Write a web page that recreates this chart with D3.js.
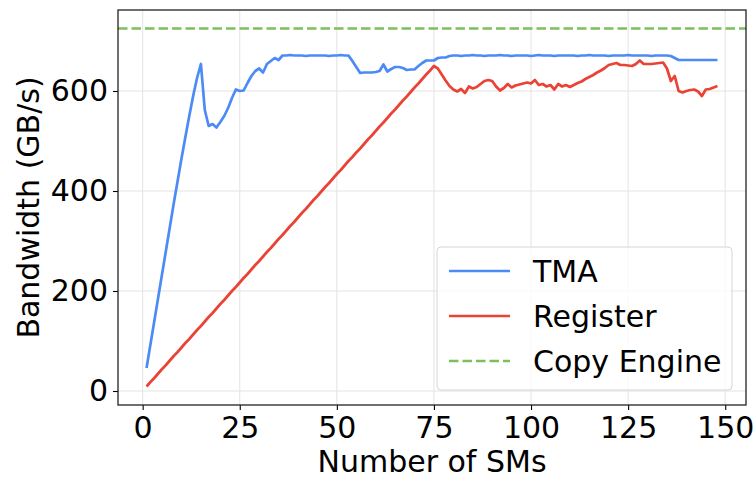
<!DOCTYPE html>
<html>
<head>
<meta charset="utf-8">
<script src="https://cdn.jsdelivr.net/npm/d3@7"></script>
<style>
  body { margin: 0; background: #fff; }
  text { font-family: "DejaVu Sans", sans-serif; fill: #000; }
</style>
</head>
<body>
<svg id="chart" width="755" height="479"></svg>
<script>
// number of SMs on the x axis
var sms = d3.range(1, 149);

// TMA bandwidth (GB/s), one value per SM count
var tmaBandwidth = [
    46, 93, 140, 187, 234, 281, 328, 375, 420, 465,
    508, 550, 590, 626, 654, 562, 530, 534, 527, 538,
    550, 566, 586, 603, 600, 601, 616, 630, 640, 645,
    637, 654, 660, 666, 662, 671, 671, 672, 671, 671,
    671, 670, 671, 671, 671, 671, 671, 670, 671, 671,
    672, 671, 671, 660, 648, 636, 637, 637, 637, 638,
    640, 653, 639, 644, 648, 648, 646, 642, 643, 643,
    650, 656, 661, 661, 661, 666, 667, 667, 670, 671,
    671, 670, 671, 671, 672, 671, 671, 670, 671, 671,
    671, 672, 671, 671, 670, 671, 671, 671, 671, 670,
    671, 672, 671, 671, 671, 670, 671, 671, 671, 671,
    671, 670, 671, 671, 672, 671, 671, 671, 671, 670,
    671, 671, 671, 671, 672, 671, 671, 671, 671, 671,
    670, 671, 671, 671, 671, 670, 666, 662, 662, 662,
    662, 662, 662, 662, 662, 662, 662, 662
];

// Register bandwidth (GB/s)
var registerBandwidth = [
    9, 18, 26, 35, 44, 52, 61, 70, 78, 87,
    96, 104, 113, 122, 130, 139, 148, 156, 165, 174,
    182, 191, 200, 208, 217, 226, 234, 243, 252, 260,
    269, 278, 286, 295, 304, 312, 321, 330, 338, 347,
    356, 364, 373, 382, 390, 399, 408, 416, 425, 434,
    442, 451, 460, 468, 477, 485, 494, 503, 511, 520,
    529, 537, 546, 555, 563, 572, 581, 589, 598, 607,
    615, 624, 633, 641, 650, 645, 633, 621, 610, 603,
    599, 604, 596, 609, 605, 608, 614, 620, 622, 620,
    609, 601, 606, 614, 607, 611, 613, 615, 617, 615,
    622, 612, 614, 609, 612, 603, 614, 609, 612, 608,
    612, 616, 619, 624, 628, 632, 637, 641, 646, 652,
    654, 656, 652, 652, 651, 650, 654, 661, 654, 654,
    654, 655, 656, 657, 645, 620, 630, 600, 597, 600,
    602, 603, 599, 590, 603, 604, 607, 610
];

// copy engine reference level (GB/s)
var copyEngineBandwidth = 725;

var xTicks = [0, 25, 50, 75, 100, 125, 150];
var yTicks = [0, 200, 400, 600];

var seriesNames = ["TMA", "Register", "Copy Engine"];
var seriesColors = ["#4C8BF5", "#EA4335", "#7DBE5E"];

var mainSvg = d3.select("#chart");

var plotLeft = 118, plotRight = 746, plotTop = 10, plotBottom = 405;
var fontSize = 30;

var xScale = d3.scaleLinear().domain([-6.35, 155.35]).range([plotLeft, plotRight]);
var yScale = d3.scaleLinear().domain([-28, 762]).range([plotBottom, plotTop]);

// grid
var grid = mainSvg.append("g");
grid.selectAll("line.vgrid").data(xTicks).enter().append("line")
    .attr("x1", function(d) { return xScale(d); })
    .attr("x2", function(d) { return xScale(d); })
    .attr("y1", plotTop)
    .attr("y2", plotBottom)
    .attr("stroke", "#e3e3e3")
    .attr("stroke-width", 1);
grid.selectAll("line.hgrid").data(yTicks).enter().append("line")
    .attr("x1", plotLeft)
    .attr("x2", plotRight)
    .attr("y1", function(d) { return yScale(d); })
    .attr("y2", function(d) { return yScale(d); })
    .attr("stroke", "#e3e3e3")
    .attr("stroke-width", 1);

// lines
var lineGen = d3.line()
    .x(function(d) { return xScale(d[0]); })
    .y(function(d) { return yScale(d[1]); });

mainSvg.append("path")
    .attr("d", lineGen(d3.zip(sms, registerBandwidth)))
    .attr("fill", "none")
    .attr("stroke", seriesColors[1])
    .attr("stroke-width", 2.7)
    .attr("stroke-linejoin", "round");

mainSvg.append("path")
    .attr("d", lineGen(d3.zip(sms, tmaBandwidth)))
    .attr("fill", "none")
    .attr("stroke", seriesColors[0])
    .attr("stroke-width", 2.7)
    .attr("stroke-linejoin", "round");

mainSvg.append("line")
    .attr("x1", plotLeft)
    .attr("x2", plotRight)
    .attr("y1", yScale(copyEngineBandwidth))
    .attr("y2", yScale(copyEngineBandwidth))
    .attr("stroke", seriesColors[2])
    .attr("stroke-width", 2.7)
    .attr("stroke-dasharray", "9.5,4");

// axes
var xAxis = d3.axisBottom(xScale).tickValues(xTicks).tickSize(5).tickPadding(5);
var yAxis = d3.axisLeft(yScale).tickValues(yTicks).tickSize(5).tickPadding(5);

var gx = mainSvg.append("g")
    .attr("transform", "translate(0," + plotBottom + ")")
    .call(xAxis);
var gy = mainSvg.append("g")
    .attr("transform", "translate(" + plotLeft + ",0)")
    .call(yAxis);

[gx, gy].forEach(function(g) {
    g.select(".domain").remove();
    g.selectAll(".tick line").attr("stroke", "#000").attr("stroke-width", 1.1);
    g.selectAll(".tick text")
        .attr("font-family", "DejaVu Sans")
        .attr("font-size", fontSize)
        .attr("fill", "#000");
});
gx.selectAll(".tick text").attr("dy", "0.76em");

// frame
mainSvg.append("rect")
    .attr("x", plotLeft)
    .attr("y", plotTop)
    .attr("width", plotRight - plotLeft)
    .attr("height", plotBottom - plotTop)
    .attr("fill", "none")
    .attr("stroke", "#222")
    .attr("stroke-width", 1.3);

// axis labels
mainSvg.append("text")
    .text("Number of SMs")
    .attr("text-anchor", "middle")
    .attr("x", (plotLeft + plotRight) / 2)
    .attr("y", 472)
    .attr("font-size", fontSize);

mainSvg.append("text")
    .text("Bandwidth (GB/s)")
    .attr("text-anchor", "middle")
    .attr("transform", "translate(39," + ((plotTop + plotBottom) / 2) + ") rotate(-90)")
    .attr("font-size", fontSize);

// legend
var legend = mainSvg.append("g");
legend.append("rect")
    .attr("x", 437)
    .attr("y", 247)
    .attr("width", 295)
    .attr("height", 143)
    .attr("rx", 4)
    .attr("fill", "#fff")
    .attr("fill-opacity", 0.8)
    .attr("stroke", "#d6d6d6")
    .attr("stroke-width", 1);

var legendRows = [271, 316, 361];
for (var i = 0; i < seriesNames.length; i++) {
    legend.append("line")
        .attr("x1", 449)
        .attr("x2", 510)
        .attr("y1", legendRows[i])
        .attr("y2", legendRows[i])
        .attr("stroke", seriesColors[i])
        .attr("stroke-width", 2.7)
        .attr("stroke-dasharray", i == 2 ? "9.5,4" : null);
    legend.append("text")
        .text(seriesNames[i])
        .attr("x", 533)
        .attr("y", legendRows[i] + 11)
        .attr("font-size", fontSize);
}
</script>
</body>
</html>
